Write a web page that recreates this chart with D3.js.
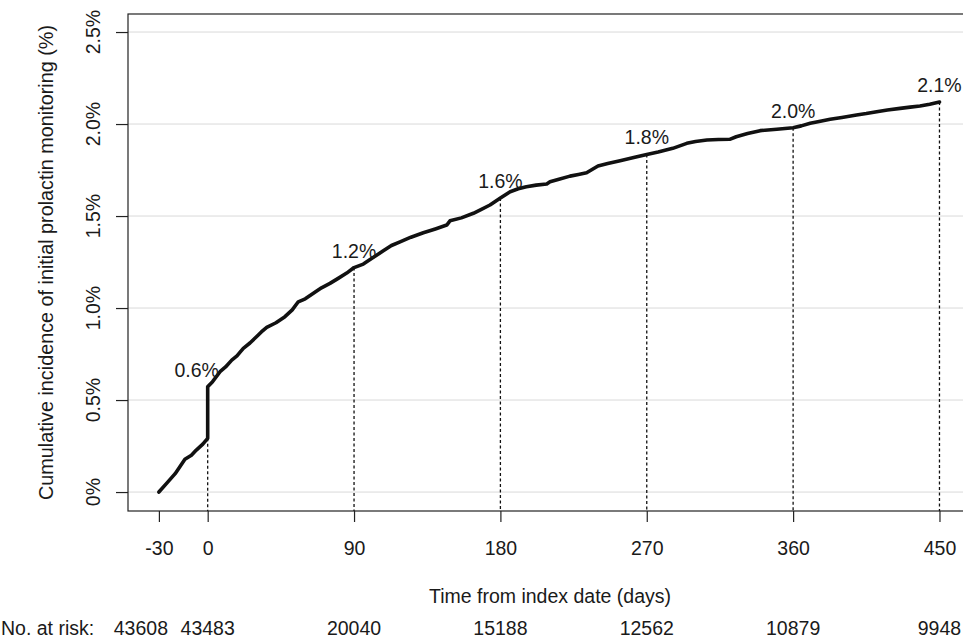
<!DOCTYPE html>
<html>
<head>
<meta charset="utf-8">
<script src="https://cdn.jsdelivr.net/npm/d3@7"></script>
<style>
  html, body { margin: 0; padding: 0; background: #fff; }
  svg { display: block; }
  text { font-family: "Liberation Sans", Arial, Helvetica, sans-serif; fill: #1a1a1a; }
</style>
</head>
<body>
<svg id="chart" width="963" height="641"></svg>
<script>
// ---- data ----
const curveDays = [-30, -25, -20, -14, -10, -7, -3, 0, 0, 3, 7.6, 11, 14.8, 18, 21.9, 26, 30, 33, 36.3, 42, 47.5, 52, 55.7, 60, 65, 70, 75.2, 80, 85.5, 90,
  95.7, 101, 108, 113, 118.3, 125, 132.6, 140, 147, 149, 156, 163.4, 168, 173.6, 180, 186, 191, 196, 202, 208.5, 210.5, 216, 222.8, 228, 233, 240,
  246, 253.6, 262, 270, 277, 286, 294.6, 300, 307, 314, 321, 325, 332, 339.7, 350, 360, 365, 370.5, 376, 382.8, 390, 399, 405, 411.4, 418, 425.8, 432, 438, 444, 450];
const curvePct = [0, 0.05, 0.10, 0.178, 0.20, 0.228, 0.26, 0.292, 0.572, 0.60, 0.654, 0.68, 0.717, 0.74, 0.781, 0.81, 0.844, 0.87, 0.895, 0.92, 0.953, 0.99, 1.034, 1.05, 1.08, 1.11, 1.134, 1.16, 1.19, 1.22,
  1.239, 1.27, 1.311, 1.34, 1.36, 1.385, 1.409, 1.43, 1.451, 1.474, 1.49, 1.515, 1.535, 1.56, 1.598, 1.632, 1.648, 1.659, 1.668, 1.674, 1.686, 1.70, 1.717, 1.726, 1.735, 1.772,
  1.785, 1.80, 1.818, 1.835, 1.848, 1.868, 1.895, 1.905, 1.913, 1.916, 1.917, 1.931, 1.948, 1.964, 1.972, 1.98, 1.99, 2.004, 2.014, 2.026, 2.036, 2.049, 2.057, 2.067, 2.076, 2.085, 2.092, 2.098, 2.108, 2.12];

const labelDays = [0, 90, 180, 270, 360, 450];
const labelLow = [0.292, 1.22, 1.598, 1.835, 1.98, 2.12];   // where dotted line starts
const labelPct = [0.572, 1.22, 1.598, 1.835, 1.98, 2.12];   // where label sits
const labelText = ["0.6%", "1.2%", "1.6%", "1.8%", "2.0%", "2.1%"];

const xTicks = [-30, 0, 90, 180, 270, 360, 450];
const xTickLabels = ["-30", "0", "90", "180", "270", "360", "450"];
const yTicks = [0, 0.5, 1.0, 1.5, 2.0, 2.5];
const yTickLabels = ["0%", "0.5%", "1.0%", "1.5%", "2.0%", "2.5%"];
const atRiskDays = [-30, 0, 90, 180, 270, 360, 450];
const atRiskN = ["43608", "43483", "20040", "15188", "12562", "10879", "9948"];

// ---- layout ----
const L = 128, R = 972, T = 14, B = 511;
const FS = 19.5;
const svg = d3.select("#chart");

const x = d3.scaleLinear().domain([-49, 470]).range([L, R]);
const y = d3.scaleLinear().domain([-0.103, 2.598]).range([B, T]);

// gridlines
svg.append("g").selectAll("line").data(yTicks).join("line")
  .attr("x1", L).attr("x2", R)
  .attr("y1", d => y(d)).attr("y2", d => y(d))
  .attr("stroke", "#d9d9d9").attr("stroke-width", 1);

// frame
svg.append("rect").attr("x", L).attr("y", T).attr("width", R - L).attr("height", B - T)
  .attr("fill", "none").attr("stroke", "#222").attr("stroke-width", 1.2);

// x axis
const xAxis = svg.append("g").attr("transform", `translate(0,${B})`)
  .call(d3.axisBottom(x).tickValues(xTicks)
    .tickFormat((d, i) => xTickLabels[i]).tickSize(11).tickPadding(19));
xAxis.select(".domain").remove();
xAxis.selectAll(".tick line").attr("stroke", "#222").attr("stroke-width", 1.2);
xAxis.selectAll(".tick text").style("font-size", FS + "px").attr("fill", "#1a1a1a")
  .style("font-family", '"Liberation Sans", Arial, sans-serif');

// y axis
const yAxis = svg.append("g").attr("transform", `translate(${L},0)`)
  .call(d3.axisLeft(y).tickValues(yTicks).tickSize(12).tickFormat(""));
yAxis.select(".domain").remove();
yAxis.selectAll(".tick line").attr("stroke", "#222").attr("stroke-width", 1.2);
svg.append("g").selectAll("text").data(yTicks).join("text")
  .attr("transform", (d) => `translate(100,${y(d)}) rotate(-90)`)
  .attr("text-anchor", "middle")
  .style("font-size", FS + "px")
  .text((d, i) => yTickLabels[i]);

// y title
svg.append("text")
  .attr("transform", `translate(53,${(T + B) / 2}) rotate(-90)`)
  .attr("text-anchor", "middle")
  .style("font-size", "19.8px")
  .text("Cumulative incidence of initial prolactin monitoring (%)");

// x title
svg.append("text")
  .attr("x", (L + R) / 2).attr("y", 603)
  .attr("text-anchor", "middle")
  .style("font-size", FS + "px")
  .text("Time from index date (days)");

// dotted verticals
svg.append("g").selectAll("line").data(labelDays).join("line")
  .attr("x1", d => x(d)).attr("x2", d => x(d))
  .attr("y1", (d, i) => y(labelLow[i])).attr("y2", B)
  .attr("stroke", "#111").attr("stroke-width", 1.3).attr("stroke-dasharray", "3,2.5");

// curve
const pts = curveDays.map((d, i) => [d, curvePct[i]]);
svg.append("path").datum(pts)
  .attr("d", d3.line().x(d => x(d[0])).y(d => y(d[1])))
  .attr("fill", "none").attr("stroke", "#111").attr("stroke-width", 3.6)
  .attr("stroke-linejoin", "round").attr("stroke-linecap", "round");

// point labels
svg.append("g").selectAll("text").data(labelDays).join("text")
  .attr("x", (d, i) => x(d) + (i === 0 ? -11 : 0))
  .attr("y", (d, i) => y(labelPct[i]) - 10)
  .attr("text-anchor", "middle")
  .style("font-size", FS + "px")
  .text((d, i) => labelText[i]);

// at-risk row
const riskY = 635;
svg.append("text").attr("x", 1).attr("y", riskY)
  .style("font-size", FS + "px").text("No. at risk:");
svg.append("g").selectAll("text").data(atRiskDays).join("text")
  .attr("x", (d, i) => x(d) + (i === 0 ? -18 : 0))
  .attr("y", riskY)
  .attr("text-anchor", "middle")
  .style("font-size", FS + "px")
  .text((d, i) => atRiskN[i]);
</script>
</body>
</html>
